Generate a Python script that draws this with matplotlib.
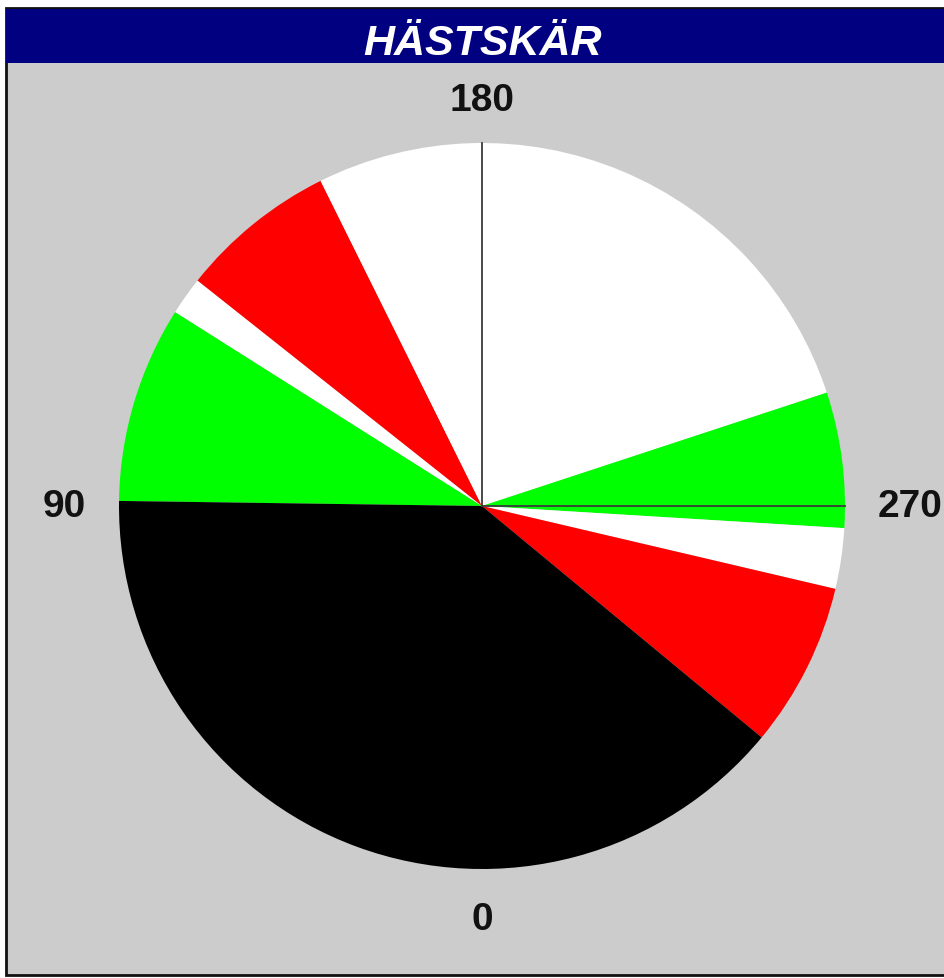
import numpy as np
import matplotlib
matplotlib.use('Agg')
import matplotlib.pyplot as plt
from matplotlib.patches import Rectangle

# sector limits (bearing as labelled on the chart: 0 bottom, 90 left, 180 top, 270 right)
sector_start = [90.8, 122.3, 128.4, 153.6, 251.8, 273.5, 283.2, 309.6]
sector_end = [122.3, 128.4, 153.6, 251.8, 273.5, 283.2, 309.6, 450.8]
sector_colors = ['#00ff00', '#ffffff', '#ff0000', '#ffffff',
                 '#00ff00', '#ffffff', '#ff0000', '#000000']
ref_lines = [180, 270]
dir_labels = ['0', '90', '180', '270']
dir_angles = [0, 90, 180, 270]
label_dist = [413, 418, 406, 428]
title = 'HÄSTSKÄR'

W, H = 944, 979
cx, cy = 482, H - 507
R = 363


def to_mpl(theta):
    # chart bearing runs clockwise from the bottom
    return 270 - np.asarray(theta)


fig = plt.figure(figsize=(W / 100, H / 100), dpi=100, facecolor='white')
ax = fig.add_axes([0, 0, 1, 1])

sizes = np.array(sector_end) - np.array(sector_start)
ax.pie(sizes, colors=sector_colors, startangle=float(to_mpl(sector_start[0])),
       counterclock=False, center=(cx, cy), radius=R,
       wedgeprops=dict(linewidth=0, antialiased=True))

for th in ref_lines:
    a = np.radians(to_mpl(th))
    ax.plot([cx, cx + R * np.cos(a)], [cy, cy + R * np.sin(a)],
            color='#3a3a3a', lw=1.3, zorder=3)

for lab, th, d in zip(dir_labels, dir_angles, label_dist):
    a = np.radians(to_mpl(th))
    ax.text(cx + d * np.cos(a), cy + d * np.sin(a), lab, ha='center',
            va='center', fontsize=28, fontweight='bold',
            family=['Liberation Sans Narrow', 'Liberation Sans'],
            color='#111111')

# grey panel with frame, and the title bar
ax.add_patch(Rectangle((6, H - 976), W - 6 + 5, 976 - 9, facecolor='#cccccc',
                       edgecolor='#111111', lw=2, zorder=0))
ax.add_patch(Rectangle((6, H - 64), W - 6 + 5, 54, facecolor='#000080',
                       edgecolor='none', zorder=0.5))
ax.text(483, H - 55, title, ha='center', va='baseline', fontsize=31,
        fontweight='bold', fontstyle='italic', family='Liberation Sans',
        color='white')

ax.set_xlim(0, W)
ax.set_ylim(0, H)
ax.set_aspect('equal')
ax.axis('off')

fig.savefig('out.png', dpi=100, facecolor='white')
